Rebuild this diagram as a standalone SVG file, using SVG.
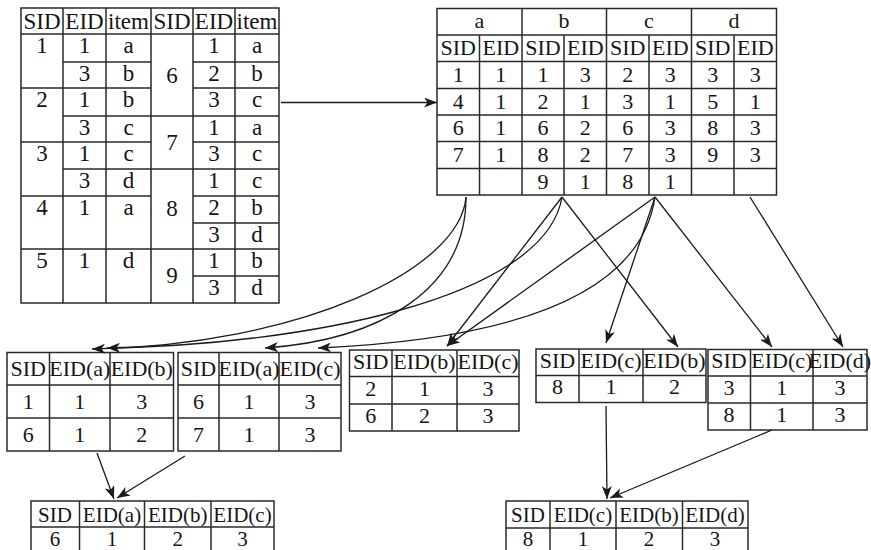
<svg xmlns="http://www.w3.org/2000/svg" width="871" height="550" viewBox="0 0 871 550">
<style>
.bd{fill:none;stroke:#2a2a2a;stroke-width:1.5}
.ln{stroke:#2a2a2a;stroke-width:1.5}
text{font-family:"Liberation Serif","Times New Roman",serif;font-size:22px;fill:#151515;text-anchor:middle}
.big{font-size:23px}
.sm{font-size:21px}
.cn{fill:none;stroke:#1a1a1a;stroke-width:1.3}
</style>
<defs>
<marker id="ah" markerUnits="userSpaceOnUse" markerWidth="14" markerHeight="10" refX="13" refY="5" orient="auto">
<path d="M0,0 L13,5 L0,10 L3.5,5 Z" fill="#1a1a1a"/>
</marker>
</defs>
<rect width="871" height="550" fill="#fff"/>

<g id="seqdb">
<rect class="bd" x="21" y="8" width="258" height="295"/>
<path class="ln" d="M63,8V303M106,8V303M151,8V303M193,8V303M235,8V303M21,34H279M63,62H151M193,62H279M21,88H151M193,88H279M63,116H279M21,142H151M193,142H279M63,169H279M21,196H151M193,196H279M193,223H279M21,249H279M193,276H279"/>
<text x="42" y="28.5" class="big">SID</text><text x="84.5" y="28.5" class="big">EID</text><text x="128.5" y="28.5" class="big">item</text><text x="172" y="28.5" class="big">SID</text><text x="214" y="28.5" class="big">EID</text><text x="257" y="28.5" class="big">item</text>
<text x="42" y="53" class="big">1</text><text x="84.5" y="53" class="big">1</text><text x="128.5" y="53" class="big">a</text>
<text x="84.5" y="81" class="big">3</text><text x="128.5" y="81" class="big">b</text>
<text x="42" y="107" class="big">2</text><text x="84.5" y="107" class="big">1</text><text x="128.5" y="107" class="big">b</text>
<text x="84.5" y="135" class="big">3</text><text x="128.5" y="135" class="big">c</text>
<text x="42" y="161" class="big">3</text><text x="84.5" y="161" class="big">1</text><text x="128.5" y="161" class="big">c</text>
<text x="84.5" y="188" class="big">3</text><text x="128.5" y="188" class="big">d</text>
<text x="42" y="215" class="big">4</text><text x="84.5" y="215" class="big">1</text><text x="128.5" y="215" class="big">a</text>
<text x="42" y="268" class="big">5</text><text x="84.5" y="268" class="big">1</text><text x="128.5" y="268" class="big">d</text>
<text x="172" y="82.5" class="big">6</text><text x="172" y="149.5" class="big">7</text><text x="172" y="216" class="big">8</text><text x="172" y="283" class="big">9</text>
<text x="214" y="53" class="big">1</text><text x="257" y="53" class="big">a</text>
<text x="214" y="81" class="big">2</text><text x="257" y="81" class="big">b</text>
<text x="214" y="107" class="big">3</text><text x="257" y="107" class="big">c</text>
<text x="214" y="135" class="big">1</text><text x="257" y="135" class="big">a</text>
<text x="214" y="161" class="big">3</text><text x="257" y="161" class="big">c</text>
<text x="214" y="188" class="big">1</text><text x="257" y="188" class="big">c</text>
<text x="214" y="215" class="big">2</text><text x="257" y="215" class="big">b</text>
<text x="214" y="242" class="big">3</text><text x="257" y="242" class="big">d</text>
<text x="214" y="268" class="big">1</text><text x="257" y="268" class="big">b</text>
<text x="214" y="295" class="big">3</text><text x="257" y="295" class="big">d</text>
</g>

<g id="vertical">
<rect class="bd" x="437" y="8.5" width="339.5" height="186.5"/>
<path class="ln" d="M522,8.5V195M606.5,8.5V195M691.5,8.5V195M479.5,35V195M564,35V195M649,35V195M734,35V195M437,35H776.5M437,61.5H776.5M437,88.5H776.5M437,115H776.5M437,141.5H776.5M437,168.5H776.5"/>
<text x="479.5" y="28">a</text><text x="564" y="28">b</text><text x="649" y="28">c</text><text x="734" y="28">d</text>
<text x="458.3" y="55">SID</text><text x="500.8" y="55">EID</text><text x="543" y="55">SID</text><text x="585.3" y="55">EID</text><text x="627.8" y="55">SID</text><text x="670.3" y="55">EID</text><text x="712.8" y="55">SID</text><text x="755.3" y="55">EID</text>
<text x="458.3" y="81.5">1</text><text x="500.8" y="81.5">1</text><text x="543" y="81.5">1</text><text x="585.3" y="81.5">3</text><text x="627.8" y="81.5">2</text><text x="670.3" y="81.5">3</text><text x="712.8" y="81.5">3</text><text x="755.3" y="81.5">3</text>
<text x="458.3" y="108.5">4</text><text x="500.8" y="108.5">1</text><text x="543" y="108.5">2</text><text x="585.3" y="108.5">1</text><text x="627.8" y="108.5">3</text><text x="670.3" y="108.5">1</text><text x="712.8" y="108.5">5</text><text x="755.3" y="108.5">1</text>
<text x="458.3" y="135">6</text><text x="500.8" y="135">1</text><text x="543" y="135">6</text><text x="585.3" y="135">2</text><text x="627.8" y="135">6</text><text x="670.3" y="135">3</text><text x="712.8" y="135">8</text><text x="755.3" y="135">3</text>
<text x="458.3" y="161.5">7</text><text x="500.8" y="161.5">1</text><text x="543" y="161.5">8</text><text x="585.3" y="161.5">2</text><text x="627.8" y="161.5">7</text><text x="670.3" y="161.5">3</text><text x="712.8" y="161.5">9</text><text x="755.3" y="161.5">3</text>
<text x="543" y="188.5">9</text><text x="585.3" y="188.5">1</text><text x="627.8" y="188.5">8</text><text x="670.3" y="188.5">1</text>
</g>

<g id="ab">
<rect class="bd" x="7" y="352.5" width="166.5" height="98.5"/>
<path class="ln" d="M49.5,352.5V451M110,352.5V451M7,385H173.5M7,418H173.5"/>
<text x="28.3" y="376">SID</text><text x="79.8" y="376">EID(a)</text><text x="141.8" y="376">EID(b)</text>
<text x="28.3" y="409">1</text><text x="79.8" y="409">1</text><text x="141.8" y="409">3</text>
<text x="28.3" y="442">6</text><text x="79.8" y="442">1</text><text x="141.8" y="442">2</text>
</g>

<g id="ac">
<rect class="bd" x="178" y="352.5" width="163" height="98.5"/>
<path class="ln" d="M219,352.5V451M279,352.5V451M178,385H341M178,418H341"/>
<text x="198.5" y="376">SID</text><text x="249" y="376">EID(a)</text><text x="310" y="376">EID(c)</text>
<text x="198.5" y="409">6</text><text x="249" y="409">1</text><text x="310" y="409">3</text>
<text x="198.5" y="442">7</text><text x="249" y="442">1</text><text x="310" y="442">3</text>
</g>

<g id="bc">
<rect class="bd" x="349.5" y="350" width="169.5" height="81"/>
<path class="ln" d="M392,350V431M457,350V431M349.5,376.5H519M349.5,404H519"/>
<text x="370.8" y="369">SID</text><text x="424.5" y="369">EID(b)</text><text x="488" y="369">EID(c)</text>
<text x="370.8" y="396">2</text><text x="424.5" y="396">1</text><text x="488" y="396">3</text>
<text x="370.8" y="423">6</text><text x="424.5" y="423">2</text><text x="488" y="423">3</text>
</g>

<g id="cb">
<rect class="bd" x="536" y="349" width="170" height="53.5"/>
<path class="ln" d="M579,349V402.5M643,349V402.5M536,375.5H706"/>
<text x="557.5" y="367.5">SID</text><text x="611" y="367.5">EID(c)</text><text x="674.5" y="367.5">EID(b)</text>
<text x="557.5" y="394">8</text><text x="611" y="394">1</text><text x="674.5" y="394">2</text>
</g>

<g id="cd">
<rect class="bd" x="708" y="349.5" width="159" height="80.5"/>
<path class="ln" d="M750.5,349.5V430M813,349.5V430M708,376H867M708,403H867"/>
<text x="729" y="368">SID</text><text x="781.8" y="368">EID(c)</text><text x="840" y="368">EID(d)</text>
<text x="729" y="395">3</text><text x="781.8" y="395">1</text><text x="840" y="395">3</text>
<text x="729" y="422">8</text><text x="781.8" y="422">1</text><text x="840" y="422">3</text>
</g>

<g id="abc">
<rect class="bd" x="31" y="501" width="243" height="60"/>
<path class="ln" d="M79.5,501V561M144.5,501V561M211,501V561M31,527H274"/>
<text class="sm" x="55" y="522">SID</text><text class="sm" x="112" y="522">EID(a)</text><text class="sm" x="177.8" y="522">EID(b)</text><text class="sm" x="242.5" y="522">EID(c)</text>
<text class="sm" x="55" y="546">6</text><text class="sm" x="112" y="546">1</text><text class="sm" x="177.8" y="546">2</text><text class="sm" x="242.5" y="546">3</text>
</g>

<g id="cbd">
<rect class="bd" x="506" y="501" width="242" height="60"/>
<path class="ln" d="M550,501V561M616,501V561M682.5,501V561M506,528H748"/>
<text class="sm" x="528" y="522">SID</text><text class="sm" x="583" y="522">EID(c)</text><text class="sm" x="649" y="522">EID(b)</text><text class="sm" x="715" y="522">EID(d)</text>
<text class="sm" x="528" y="546">8</text><text class="sm" x="583" y="546">1</text><text class="sm" x="649" y="546">2</text><text class="sm" x="715" y="546">3</text>
</g>

<g id="connectors">
<path class="cn" marker-end="url(#ah)" d="M281,102.5H437"/>
<path class="cn" marker-end="url(#ah)" d="M466,197 C460,270 300,345 92,349"/>
<path class="cn" marker-end="url(#ah)" d="M466,197 C466,290 380,340 265,348"/>
<path class="cn" marker-end="url(#ah)" d="M562,197 C545,300 300,345 107,348"/>
<path class="cn" marker-end="url(#ah)" d="M655,197 C640,300 500,340 318,348"/>
<path class="cn" marker-end="url(#ah)" d="M562,197 L447,346"/>
<path class="cn" marker-end="url(#ah)" d="M655,197 L447,346"/>
<path class="cn" marker-end="url(#ah)" d="M655,197 L606,343"/>
<path class="cn" marker-end="url(#ah)" d="M562,197 L678,347"/>
<path class="cn" marker-end="url(#ah)" d="M655,197 L772,347"/>
<path class="cn" marker-end="url(#ah)" d="M750,197 L843,347"/>
<path class="cn" marker-end="url(#ah)" d="M97,453 L114,499"/>
<path class="cn" marker-end="url(#ah)" d="M185,456 L117,498"/>
<path class="cn" marker-end="url(#ah)" d="M606,406 L607,499"/>
<path class="cn" marker-end="url(#ah)" d="M772,430 L610,498"/>
</g>
</svg>
